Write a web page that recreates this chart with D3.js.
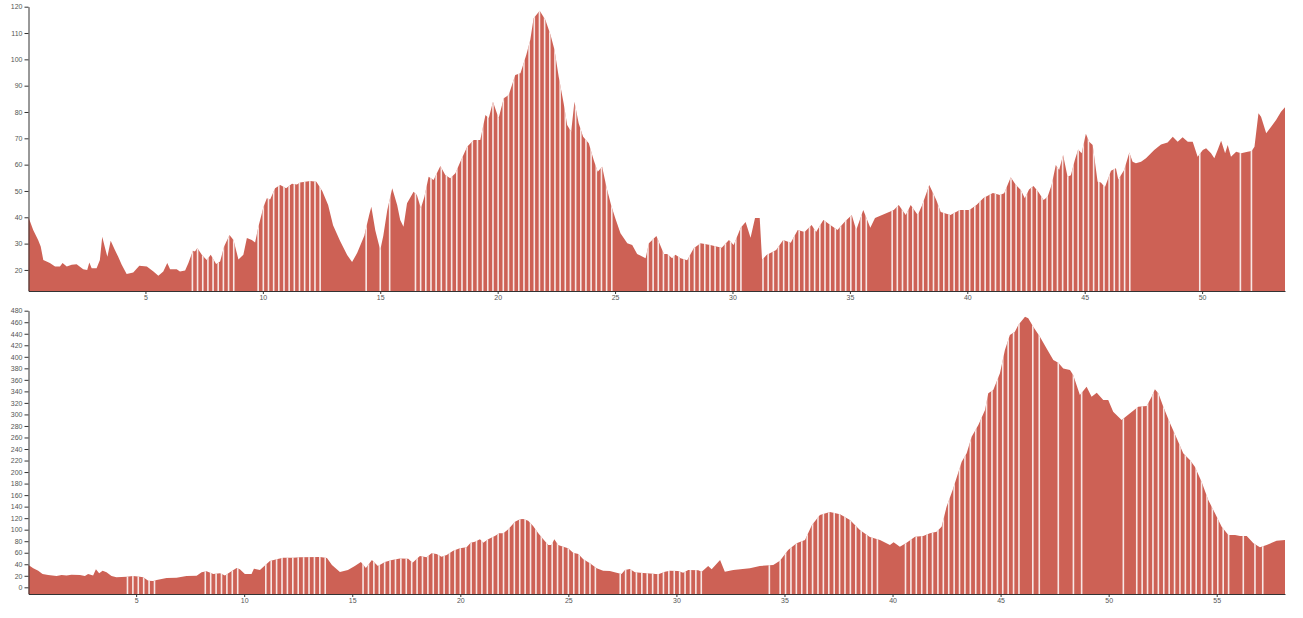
<!DOCTYPE html>
<html>
<head>
<meta charset="utf-8">
<script src="https://cdn.jsdelivr.net/npm/d3@7"></script>
<style>
  body { margin: 0; background: #fff; }
  .axis text { font: 7px "Liberation Sans", Arial, sans-serif; fill: #555; }
  .axis path, .axis line { stroke: #333; }
</style>
</head>
<body>
<svg id="chart" width="1303" height="618"></svg>
<script>
// Perfil 1 (km, valor)
const topKm = [0.02,0.22,0.43,0.54,0.65,0.93,1.15,1.36,1.47,1.65,1.86,2.07,2.35,2.52,2.61,2.71,2.92,3.06,3.16,3.28,3.38,3.52,3.7,3.84,3.99,4.2,4.48,4.74,5.06,5.34,5.55,5.76,5.93,6.05,6.33,6.47,6.69,6.83,7.02,7.11,7.21,7.4,7.61,7.78,8.01,8.18,8.35,8.58,8.75,8.96,9.17,9.32,9.53,9.67,9.81,10.03,10.17,10.31,10.52,10.74,10.99,11.24,11.45,11.59,12.02,12.28,12.53,12.78,12.99,13.29,13.59,13.8,14.02,14.32,14.53,14.62,14.79,15.0,15.13,15.3,15.51,15.72,15.85,15.99,16.14,16.42,16.56,16.73,16.88,17.06,17.27,17.56,17.77,17.98,18.2,18.41,18.7,18.98,19.26,19.48,19.62,19.8,20.04,20.26,20.47,20.75,20.97,21.22,21.39,21.53,21.79,22.03,22.25,22.42,22.6,22.81,22.96,23.13,23.27,23.45,23.64,23.88,24.09,24.26,24.45,24.63,24.83,25.01,25.23,25.52,25.73,25.94,26.3,26.44,26.76,27.08,27.22,27.43,27.57,27.79,28.07,28.35,28.64,29.05,29.54,29.85,30.05,30.35,30.56,30.77,30.96,31.16,31.26,31.45,31.86,32.16,32.48,32.78,33.07,33.37,33.56,33.87,34.17,34.47,34.77,35.08,35.27,35.57,35.87,36.07,36.57,36.87,37.08,37.38,37.59,37.89,38.08,38.38,38.68,38.87,39.28,39.68,40.09,40.39,40.69,41.09,41.39,41.57,41.85,42.07,42.28,42.45,42.63,42.82,43.02,43.25,43.42,43.59,43.77,43.91,44.08,44.27,44.41,44.58,44.72,44.87,45.05,45.19,45.34,45.55,45.69,45.86,46.12,46.33,46.43,46.68,46.9,47.04,47.18,47.4,47.61,47.96,48.25,48.53,48.75,48.96,49.17,49.39,49.6,49.81,50.03,50.17,50.38,50.52,50.67,50.81,50.98,51.09,51.23,51.45,51.66,51.94,52.11,52.23,52.4,52.51,52.73,52.94,53.15,53.36,53.53];
const topElev = [40,35.2,31.4,28.9,23.8,22.6,21.3,21.3,22.6,21.3,22,22.2,20.3,20,22.8,20.6,20.6,23.8,32.6,28.3,25,31.1,27.6,25,22,18.5,19,21.6,21.3,19.4,17.8,19.4,22.6,20.3,20.3,19.4,19.8,22.6,27.3,27,28.3,25.8,23.8,25.8,22.3,23.2,28.9,33.3,31.4,24,25.8,32.1,31.4,30.4,36.4,44,47.2,46.8,51,52.3,51,52.7,52.5,53.2,53.8,53.5,50,44.7,37,31,25.7,23,26.5,33,41,44,35,27.6,33,42.8,51,44.7,39,36.4,45.3,49.7,48.5,43.4,47.8,55.4,54.2,59.5,56.1,54.8,56.7,61.1,66.8,69.4,69.4,78.9,77.6,83.9,77.6,85.2,86.5,94.1,94.7,101.7,107.4,115.6,118.5,115,109.3,103.6,93.4,83.3,75.1,72.5,83.9,75.7,70.6,68.1,61.8,57.3,59.2,51.6,44.7,39.6,33.9,30.1,29.5,26.1,24.4,30.1,32.9,26.1,26.1,24.4,25.8,24.4,23.7,28.2,30.1,29.5,28.4,31.4,29.5,36,38.2,32.2,39.7,39.7,23.8,25.7,27.6,31.4,30.3,35.2,34.4,37.1,34.4,39,37.1,35.2,38.2,40.9,35.2,42.8,36,39.7,41.6,42.8,44.7,40.9,44.7,40.9,44.7,52.3,46.6,42,40.9,42.8,42.8,44.7,47.3,49.2,48.5,49.1,55.2,52.3,50.4,47.2,50.6,51.9,49.7,46.6,47.8,52.3,59.9,58,63.7,55.4,56,61.8,65.8,64.3,71.7,68.7,67.5,53.5,53.2,51.4,57.7,58.6,54.4,58,64.6,61.1,60.5,61.1,62.4,65.6,67.7,68.4,70.6,68.7,70.4,68.7,68.7,63,65.6,66.2,64.3,62.4,65.8,69.1,64.3,67.5,63,64.9,64.3,64.9,65.2,66.8,79.5,78.2,71.9,74.4,77,80.1,81.8];
// trechos com amostras espaçadas [inicio, fim] e marcas isoladas
const topSparse = [[7.0, 8.9], [9.8, 12.5], [16.5, 25.0], [26.4, 30.4], [31.3, 35.8], [36.8, 47.1]];
const topSingles = [14.4, 15.0, 15.4, 49.9, 51.63, 52.1];

// Perfil 2
const bottomKm = [0.02,0.24,0.47,0.67,0.93,1.32,1.55,1.78,2.01,2.4,2.63,2.78,3.01,3.14,3.29,3.45,3.63,3.86,4.09,4.56,4.86,5.17,5.33,5.56,5.79,5.95,6.41,6.87,7.33,7.8,8.03,8.26,8.57,8.88,9.11,9.34,9.65,9.8,10.03,10.34,10.45,10.73,10.88,11.19,11.5,11.81,12.27,12.58,13.51,13.83,14.06,14.43,14.8,15.12,15.4,15.63,15.91,16.19,16.51,16.84,17.21,17.59,17.79,18.13,18.44,18.67,18.9,19.13,19.37,19.67,19.98,20.29,20.48,20.68,20.91,21.06,21.29,21.6,21.8,21.99,22.22,22.53,22.76,22.91,23.14,23.37,23.61,23.84,24.07,24.22,24.35,24.53,24.76,24.99,25.22,25.46,25.69,26.0,26.31,26.61,26.92,27.23,27.46,27.62,27.85,28.08,28.46,28.93,29.16,29.47,29.7,30.08,30.31,30.55,31.01,31.17,31.47,31.63,32.02,32.24,32.63,33.4,33.86,34.48,34.79,35.17,35.56,35.95,36.27,36.64,37.1,37.57,38.03,38.49,38.95,39.42,39.88,40.05,40.34,40.65,41.04,41.42,41.73,42.04,42.27,42.5,42.81,43.2,43.43,43.66,43.97,44.28,44.43,44.66,44.97,45.2,45.43,45.66,45.82,46.13,46.28,46.51,46.82,47.13,47.44,47.67,47.9,48.21,48.36,48.67,48.98,49.21,49.45,49.75,49.98,50.21,50.6,50.99,51.37,51.76,51.99,52.14,52.3,52.53,52.84,53.15,53.45,53.76,53.99,54.3,54.61,54.92,55.23,55.54,55.85,56.08,56.39,56.7,57.0,57.31,57.77,58.16];
const bottomElev = [38.7,33,28.8,23.1,21.3,19.6,21.3,20.5,22,21.3,19.6,23.1,20.5,31.2,24.3,28.8,26,19.6,17.3,18.5,19.6,18.5,17.3,11.5,11,12.7,16.2,16.8,19.6,20.2,26,27.8,23.1,24.3,20.5,26,33.5,31.2,23.1,23.1,32.4,30,35.2,45.6,48.6,51.4,51.4,52,52.6,50.8,38.7,26.5,30,37,43.9,33.5,47.4,37,43.9,47.4,50,49.7,42.7,54.3,52,59,57.8,53.1,56,63.5,67.7,69.4,77.4,79.1,83.3,77.4,83.3,89,93.7,93.7,100.6,113.8,118,118.5,115.5,106.3,93.7,83.3,73.4,73.4,83.3,73.4,70.4,67.7,60,57.8,48.6,41.6,33,28.8,28.3,25.3,23.1,30,31.7,26,24.8,23.6,22.5,27.1,28.8,28.3,25.3,30,29.5,27.1,37,31.2,47.4,27.1,30,33,37,38.7,46.2,64.7,76.3,82,108,125.6,130.6,127,116.8,99.4,87.3,82,73.4,78,70.4,77.4,87.8,89,93.7,96.5,105.1,139.8,171.8,217.9,232.5,261.3,281.6,307.6,336.6,342.3,371.3,411.7,437.7,443.4,455.1,469.5,466.7,452.1,434.8,414.6,394.3,389.7,379.9,377,368.3,333.6,348,330.7,337.6,325,325,304.6,290.2,301.9,313.3,314.5,330.7,343.5,336.6,313.3,284.5,258.5,232.5,220.8,209.2,183.2,151.5,128.4,105.1,90.7,90.7,89,89,76.3,69.4,73.4,80.8,82];
const bottomSparse = [[4.6, 6.0], [8.2, 9.8], [11.0, 14.0], [15.5, 26.3], [27.4, 31.2], [34.8, 39.4], [40.6, 46.1], [51.3, 55.6]];
const bottomSingles = [34.3, 46.49, 46.79, 47.67, 48.37, 48.75, 50.68, 56.23, 56.77, 57.13];

// Rótulos dos eixos
const topYTicks = [20, 30, 40, 50, 60, 70, 80, 90, 100, 110, 120];
const topXTicks = [5, 10, 15, 20, 25, 30, 35, 40, 45, 50];
const bottomYTicks = d3.range(0, 481, 20);
const bottomXTicks = [5, 10, 15, 20, 25, 30, 35, 40, 45, 50, 55];

const svg = d3.select("#chart");
const color = "#cd6155";

function drawProfile(id, km, elev, sparse, singles, step, yDomain, yRange, yTicks, xTicks) {
  const left = 28.5, right = 1285;
  const g = svg.append("g");
  const data = km.map((k, i) => ({ km: k, v: elev[i] }));

  const x = d3.scaleLinear().domain([km[0], km[km.length - 1]]).range([left, right]);
  const y = d3.scaleLinear().domain(yDomain).range(yRange);

  const area = d3.area()
    .x(d => x(d.km))
    .y0(yRange[0])
    .y1(d => y(d.v));

  g.append("clipPath").attr("id", "clip-" + id)
    .append("path").attr("d", area(data));

  g.append("path")
    .attr("d", area(data))
    .attr("fill", color);

  // faixas brancas entre as amostras
  const marks = sparse.flatMap(([a, b]) => d3.range(a, b, step)).concat(singles);
  g.append("g")
    .attr("clip-path", `url(#clip-${id})`)
    .selectAll("rect")
    .data(marks)
    .join("rect")
    .attr("x", d => x(d) - 0.8)
    .attr("y", yRange[1])
    .attr("width", 1.6)
    .attr("height", yRange[0] - yRange[1])
    .attr("fill", "#fff")
    .attr("opacity", 0.85);

  g.append("g")
    .attr("class", "axis")
    .attr("transform", `translate(0,${yRange[0]})`)
    .call(d3.axisBottom(x).tickValues(xTicks).tickSize(3).tickPadding(1).tickSizeOuter(0));

  g.append("g")
    .attr("class", "axis")
    .attr("transform", `translate(${left},0)`)
    .call(d3.axisLeft(y).tickValues(yTicks).tickSize(4).tickPadding(2).tickSizeOuter(0));
}

drawProfile("top", topKm, topElev, topSparse, topSingles, 0.22, [12, 120], [291, 6.7], topYTicks, topXTicks);
drawProfile("bottom", bottomKm, bottomElev, bottomSparse, bottomSingles, 0.25, [-11.6, 480], [594, 310.7], bottomYTicks, bottomXTicks);
</script>
</body>
</html>
